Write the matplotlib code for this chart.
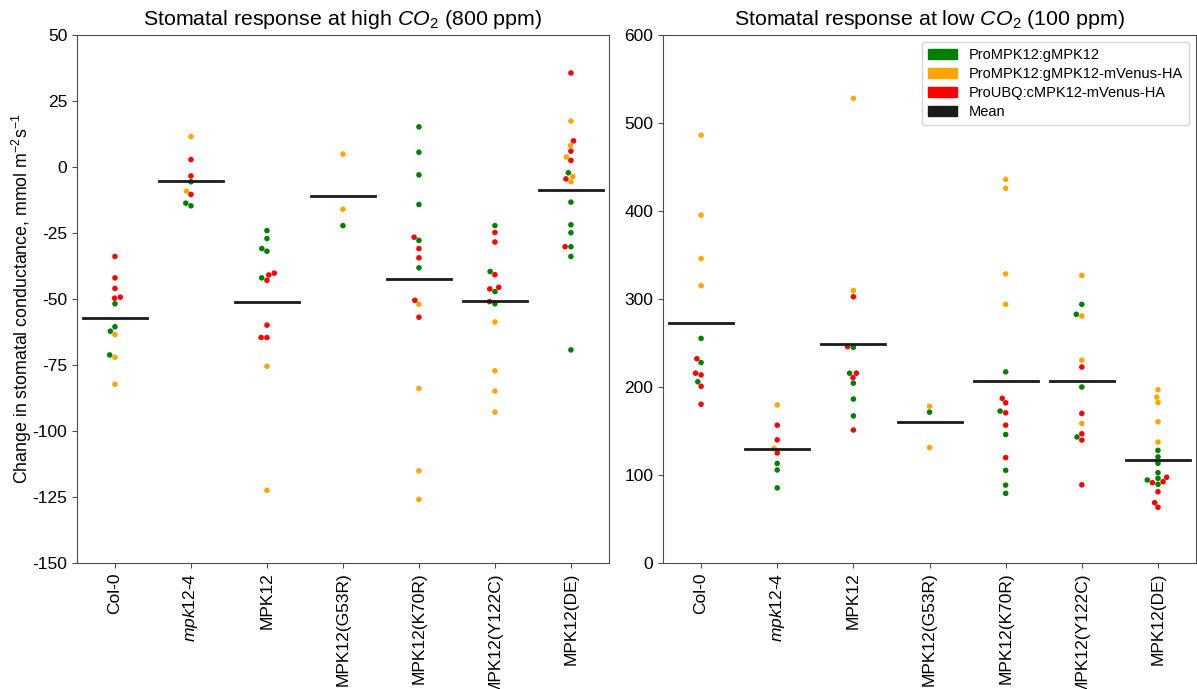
import numpy as np
import pandas as pd
import matplotlib
matplotlib.use("Agg")
import matplotlib.pyplot as plt
import matplotlib.patches as mpatches
import seaborn as sns

plt.rcParams['font.family'] = ['Liberation Sans', 'DejaVu Sans']
plt.rcParams['mathtext.fontset'] = 'custom'
plt.rcParams['mathtext.rm'] = 'Liberation Sans'
plt.rcParams['mathtext.it'] = 'Liberation Sans:italic'
plt.rcParams['axes.unicode_minus'] = False

genotypes = ['Col-0', '$mpk12$-4', 'MPK12', 'MPK12(G53R)', 'MPK12(K70R)',
             'MPK12(Y122C)', 'MPK12(DE)']
lines = ['ProMPK12:gMPK12', 'ProMPK12:gMPK12-mVenus-HA', 'ProUBQ:cMPK12-mVenus-HA']
line_colors = ['green', 'orange', 'red']

# change in gs at 800 ppm, one sublist per genotype
high_green = [
    [-51.8, -60.5, -62.2, -71.2],
    [-5.6, -13.7, -14.7],
    [-24.1, -27.1, -30.9, -31.9, -42.0],
    [-22.2],
    [15.2, 5.6, -3.0, -14.2, -27.8, -38.2],
    [-22.2, -39.6, -47.2, -51.8],
    [-2.2, -13.3, -21.9, -24.9, -30.2, -33.9, -69.3],
]
high_orange = [
    [-63.5, -72.1, -82.3],
    [11.5, -9.1],
    [-75.5, -122.5],
    [4.9, -16.0],
    [-52.0, -83.9, -115.1, -125.9],
    [-58.7, -77.2, -84.9, -92.9],
    [17.4, 8.1, 3.8, -3.6, -5.6],
]
high_red = [
    [-33.9, -42.0, -46.0, -49.3, -49.7],
    [2.8, -3.4, -10.4],
    [-40.2, -40.9, -42.9, -59.9, -64.6, -64.6],
    [],
    [-26.6, -30.9, -34.4, -50.5, -56.9],
    [-24.8, -28.4, -40.8, -45.6, -46.2, -51.0],
    [35.6, 9.9, 6.0, 2.5, -4.5, -30.2],
]

# change in gs at 100 ppm
low_green = [
    [255.2, 227.8, 206.0],
    [113.1, 105.7, 85.3],
    [245.0, 215.7, 204.3, 186.3, 167.1],
    [171.4],
    [217.2, 172.6, 146.0, 105.3, 88.5, 79.1],
    [293.9, 282.6, 200.0, 143.2],
    [128.0, 120.5, 113.3, 102.6, 96.2, 94.3, 89.4],
]
low_orange = [
    [486.1, 395.3, 346.0, 315.1],
    [179.6, 130.4],
    [528.0, 309.6],
    [178.1, 131.1],
    [436.0, 425.8, 328.4, 293.9],
    [326.8, 280.6, 230.5, 158.5],
    [196.9, 188.6, 182.4, 160.5, 137.4],
]
low_red = [
    [232.1, 215.7, 213.7, 200.8, 180.4],
    [156.6, 139.9, 125.1],
    [302.5, 245.8, 215.7, 210.6, 151.1],
    [],
    [187.1, 182.0, 170.6, 156.6, 119.8],
    [222.7, 169.9, 146.8, 139.7, 88.8],
    [97.4, 92.4, 91.3, 81.0, 68.5, 63.3],
]


def to_frame(green, orange, red):
    rows = []
    for line, groups in zip(lines, [green, orange, red]):
        for g, vals in zip(genotypes, groups):
            for v in vals:
                rows.append((g, line, v))
    return pd.DataFrame(rows, columns=['genotype', 'line', 'value'])


def draw_panel(ax, df, title, ylim, yticks):
    sns.swarmplot(data=df, x='genotype', y='value', hue='line',
                  order=genotypes, hue_order=lines, palette=line_colors,
                  size=4, ax=ax, legend=False)
    means = df.groupby('genotype')['value'].mean().reindex(genotypes)
    for i, m in enumerate(means):
        ax.plot([i - 0.42, i + 0.42], [m, m], color='#1a1a1a', lw=2, zorder=5)
    ax.set_xlim(-0.5, len(genotypes) - 0.5)
    ax.set_ylim(*ylim)
    ax.set_yticks(yticks)
    ax.set_xticks(range(len(genotypes)))
    ax.set_xticklabels(genotypes, rotation=90)
    ax.set_xlabel('')
    ax.set_ylabel('')
    ax.set_title(title, fontsize=15.4, pad=7)
    ax.tick_params(labelsize=12.5, color='0.3')
    for s in ax.spines.values():
        s.set_color('0.3')


fig = plt.figure(figsize=(11.97, 6.89), dpi=100)
ax1 = fig.add_axes([0.0643, 0.1829, 0.4444, 0.7663])
ax2 = fig.add_axes([0.5539, 0.1829, 0.4453, 0.7663])

draw_panel(ax1, to_frame(high_green, high_orange, high_red),
           'Stomatal response at high $CO_2$ (800 ppm)',
           (-150, 50), np.arange(-150, 51, 25))
draw_panel(ax2, to_frame(low_green, low_orange, low_red),
           'Stomatal response at low $CO_2$ (100 ppm)',
           (0, 600), np.arange(0, 601, 100))

ax1.set_ylabel('Change in stomatal conductance, mmol m$^{-2}$s$^{-1}$',
               fontsize=12.8, labelpad=-1)

handles = [mpatches.Patch(color=c, label=l) for c, l in zip(line_colors, lines)]
handles.append(mpatches.Patch(color='#1a1a1a', label='Mean'))
ax2.legend(handles=handles, loc='upper right', fontsize=10.5, labelspacing=0.35)

fig.savefig('out.png', dpi=100)
